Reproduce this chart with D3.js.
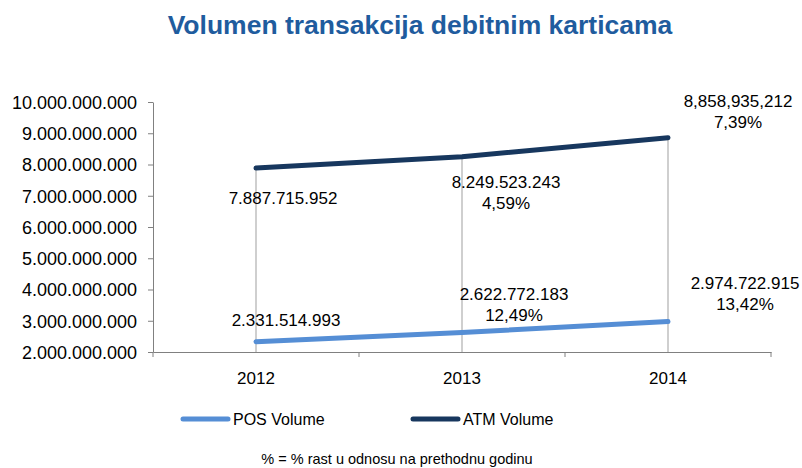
<!DOCTYPE html>
<meta charset="utf-8">
<style>
body { margin: 0; background: #fff; }
text { font-family: "Liberation Sans", Arial, sans-serif; fill: #000; }
.title { font: bold 26.5px "Liberation Sans", Arial, sans-serif; fill: #1f5c9e; }
.axis text { font-size: 18px; fill: #000; }
.xaxis text { font-size: 17px; }
.axis path, .axis line { stroke: #808080; }
.lbl { font-size: 17px; }
.leg { font-size: 16px; }
.note { font-size: 14.5px; }
</style>
<body>
<script src="https://cdn.jsdelivr.net/npm/d3@7/dist/d3.min.js"></script>
<script>

var years = ["2012", "2013", "2014"],
	posVolume = [2331514993, 2622772183, 2974722915],
	atmVolume = [7887715952, 8249523243, 8858935212],
	posLabels = ["2.331.514.993", "2.622.772.183", "2.974.722.915"],
	atmLabels = ["7.887.715.952", "8.249.523.243", "8,858,935,212"],
	posGrowth = ["", "12,49%", "13,42%"],
	atmGrowth = ["", "4,59%", "7,39%"],
	yTicks = [2e9, 3e9, 4e9, 5e9, 6e9, 7e9, 8e9, 9e9, 10e9];

var width = 802,
	height = 468,
	plotLeft = 153, plotRight = 771, plotTop = 102, plotBottom = 352;

var svg = d3.select("body").append("svg")
	.attr("width", width)
	.attr("height", height);

svg.append("text")
	.attr("class", "title")
	.attr("x", 420)
	.attr("y", 34)
	.attr("text-anchor", "middle")
	.text("Volumen transakcija debitnim karticama");

var x = d3.scaleBand().domain(years).range([plotLeft, plotRight]);
var y = d3.scaleLinear().domain([2e9, 10e9]).range([plotBottom, plotTop]);

function fmt(v) {
	return d3.format(",")(v).replace(/,/g, ".");
}

// axes
var yAxis = svg.append("g")
	.attr("class", "axis")
	.attr("transform", "translate(" + plotLeft + ",0)")
	.call(d3.axisLeft(y).tickValues(yTicks).tickFormat(fmt).tickSize(5).tickSizeOuter(0));
yAxis.selectAll("text").attr("x", -16).attr("dy", "0.35em");

var xAxis = svg.append("g")
	.attr("class", "axis xaxis")
	.attr("transform", "translate(0," + plotBottom + ")")
	.call(d3.axisBottom(x).tickSize(0).tickSizeOuter(0));
xAxis.selectAll(".tick text").attr("y", 20);
// category boundary ticks
xAxis.selectAll(".sep")
	.data([0, 1, 2, 3])
	.enter().append("line")
	.attr("x1", function(d) { return plotLeft + d * x.step(); })
	.attr("x2", function(d) { return plotLeft + d * x.step(); })
	.attr("y1", 0).attr("y2", 5)
	.attr("stroke", "#808080");

var cx = function(i) { return x(years[i]) + x.bandwidth() / 2; };

// drop lines
svg.selectAll(".drop")
	.data(atmVolume)
	.enter().append("line")
	.attr("x1", function(d, i) { return cx(i); })
	.attr("x2", function(d, i) { return cx(i); })
	.attr("y1", function(d) { return y(d); })
	.attr("y2", plotBottom)
	.attr("stroke", "#bfbfbf")
	.attr("stroke-width", 1.5);

var line = d3.line()
	.x(function(d, i) { return cx(i); })
	.y(function(d) { return y(d); });

svg.append("path").datum(posVolume)
	.attr("d", line).attr("fill", "none")
	.attr("stroke", "#558ed5").attr("stroke-width", 5).attr("stroke-linecap", "round");

svg.append("path").datum(atmVolume)
	.attr("d", line).attr("fill", "none")
	.attr("stroke", "#17375e").attr("stroke-width", 5).attr("stroke-linecap", "round");

// data labels (offsets in px relative to the point)
var atmOff = [[27, 36], [44, 31], [70, -31]],
	posOff = [[30, -16], [52, -33], [77, -33]];

function labels(vals, txt, growth, off) {
	vals.forEach(function(v, i) {
		var t = svg.append("text")
			.attr("class", "lbl")
			.attr("text-anchor", "middle")
			.attr("x", cx(i) + off[i][0])
			.attr("y", y(v) + off[i][1]);
		t.append("tspan").attr("x", cx(i) + off[i][0]).text(txt[i]);
		if (growth[i]) {
			t.append("tspan").attr("x", cx(i) + off[i][0]).attr("dy", 21).text(growth[i]);
		}
	});
}
labels(atmVolume, atmLabels, atmGrowth, atmOff);
labels(posVolume, posLabels, posGrowth, posOff);

// legend
var legend = [["POS Volume", "#558ed5", 183], ["ATM Volume", "#17375e", 413]];
legend.forEach(function(d) {
	svg.append("line")
		.attr("x1", d[2]).attr("x2", d[2] + 45)
		.attr("y1", 419).attr("y2", 419)
		.attr("stroke", d[1]).attr("stroke-width", 5).attr("stroke-linecap", "round");
	svg.append("text")
		.attr("class", "leg")
		.attr("x", d[2] + 50).attr("y", 425)
		.text(d[0]);
});

svg.append("text")
	.attr("class", "note")
	.attr("x", 397).attr("y", 464)
	.attr("text-anchor", "middle")
	.text("% = % rast u odnosu na prethodnu godinu");

</script>
</body>
</html>
